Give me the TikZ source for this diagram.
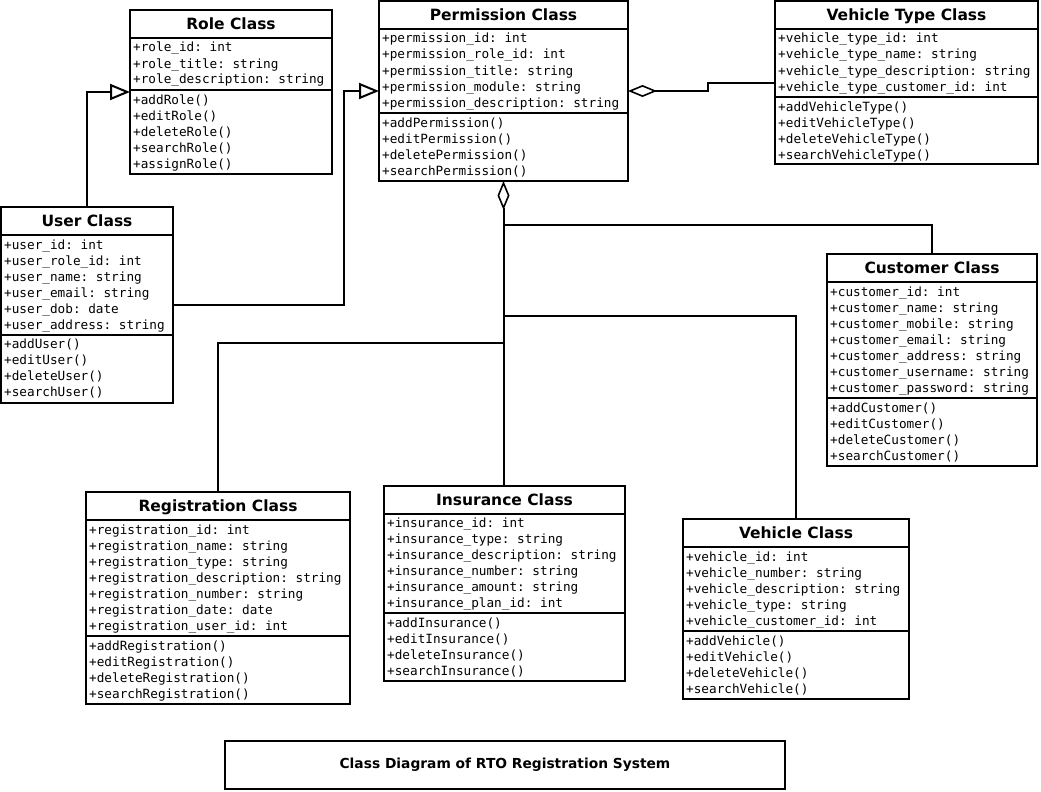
\documentclass[tikz,border=0pt]{standalone}
\usepackage{fontspec}
\setmainfont{DejaVu Sans}
\setsansfont{DejaVu Sans}
\setmonofont{DejaVu Sans Mono}
\usetikzlibrary{arrows.meta}

\tikzset{
  clsbox/.style={draw=black, line width=2pt, fill=white, inner sep=0pt, outer sep=0pt},
  divider/.style={line width=2pt},
  clstitle/.style={font=\fontsize{15.5}{18}\selectfont\bfseries, inner sep=0pt, anchor=base},
  member/.style={font=\fontsize{12.7}{16}\selectfont\ttfamily, anchor=base west, inner sep=0pt},
  conn/.style={line width=2pt, line join=miter},
  gen/.style={-{Triangle[open,length=20pt,width=16pt,line width=2pt]}},
  agg/.style={{Diamond[open,length=29pt,width=12pt,line width=1.6pt]}-},
  captionbox/.style={draw=black, line width=2pt, fill=white, minimum width=560pt, minimum height=48pt,
    font=\fontsize{13.8}{16}\selectfont\bfseries, inner sep=0pt},
}

% #1 name, #2 x1, #3 y1, #4 x2, #5 y2, #6 title divider, #7 attribute divider, #8 title
\newcommand\umlclass[8]{%
  \node[clsbox, minimum width={#4-#2}, minimum height={#5-#3}, anchor=north west] (#1) at (#2,#3) {};
  \draw[divider] (#2,#6) -- (#4,#6) (#2,#7) -- (#4,#7);
  \node[clstitle] at ({(#2+#4)/2},{(#3+#6)/2+5.6}) {#8};
}
% #1 x of box, #2 divider y above the block, #3 list of lines
\newcommand\members[3]{%
  \foreach \m [count=\i from 0] in {#3} {\node[member] at ({#1+3},{#2+14.5+16*\i}) {\m};}%
}

\begin{document}
\begin{tikzpicture}[x=1pt,y=-1pt]
\useasboundingbox (0,0) rectangle (1041,792);
\fill[white] (0,0) rectangle (1041,792);

% Role Class
\umlclass{role}{130}{10}{332}{174}{38}{90}{Role Class}
\members{130}{37.5}{+role\_id: int,+role\_title: string,+role\_description: string}
\members{130}{89.5}{+addRole(),+editRole(),+deleteRole(),+searchRole(),+assignRole()}

% Permission Class
\umlclass{permission}{379}{1}{628}{181}{29}{113}{Permission Class}
\members{379}{28.5}{+permission\_id: int,+permission\_role\_id: int,+permission\_title: string,+permission\_module: string,+permission\_description: string}
\members{379}{112.5}{+addPermission(),+editPermission(),+deletePermission(),+searchPermission()}

% Vehicle Type Class
\umlclass{vtype}{775}{1}{1038}{164}{29}{97}{Vehicle Type Class}
\members{775}{28.5}{+vehicle\_type\_id: int,+vehicle\_type\_name: string,+vehicle\_type\_description: string,+vehicle\_type\_customer\_id: int}
\members{775}{96.5}{+addVehicleType(),+editVehicleType(),+deleteVehicleType(),+searchVehicleType()}

% User Class
\umlclass{user}{1}{207}{173}{403}{235}{335}{User Class}
\members{1}{234.5}{+user\_id: int,+user\_role\_id: int,+user\_name: string,+user\_email: string,+user\_dob: date,+user\_address: string}
\members{1}{334}{+addUser(),+editUser(),+deleteUser(),+searchUser()}

% Customer Class
\umlclass{customer}{827}{254}{1037}{466}{282}{398}{Customer Class}
\members{827}{281.5}{+customer\_id: int,+customer\_name: string,+customer\_mobile: string,+customer\_email: string,+customer\_address: string,+customer\_username: string,+customer\_password: string}
\members{827}{397.5}{+addCustomer(),+editCustomer(),+deleteCustomer(),+searchCustomer()}

% Registration Class
\umlclass{registration}{86}{492}{350}{704}{520}{636}{Registration Class}
\members{86}{519.5}{+registration\_id: int,+registration\_name: string,+registration\_type: string,+registration\_description: string,+registration\_number: string,+registration\_date: date,+registration\_user\_id: int}
\members{86}{635.5}{+addRegistration(),+editRegistration(),+deleteRegistration(),+searchRegistration()}

% Insurance Class
\umlclass{insurance}{384}{486}{625}{681}{514}{613}{Insurance Class}
\members{384}{513}{+insurance\_id: int,+insurance\_type: string,+insurance\_description: string,+insurance\_number: string,+insurance\_amount: string,+insurance\_plan\_id: int}
\members{384}{612.5}{+addInsurance(),+editInsurance(),+deleteInsurance(),+searchInsurance()}

% Vehicle Class
\umlclass{vehicle}{683}{519}{909}{699}{547}{631}{Vehicle Class}
\members{683}{547}{+vehicle\_id: int,+vehicle\_number: string,+vehicle\_description: string,+vehicle\_type: string,+vehicle\_customer\_id: int}
\members{683}{631}{+addVehicle(),+editVehicle(),+deleteVehicle(),+searchVehicle()}

% Caption
\node[captionbox] (caption) at (505,765) {Class Diagram of RTO Registration System};

% Generalisations
\draw[conn, gen] (user.north) |- (role.west);
\draw[conn, gen] (user.east) -| ([xshift=-35pt]permission.west) -- (permission.west);

% Aggregations
\draw[conn, agg] (permission.east) -- ++(80,0) |- (vtype.west);
\draw[conn, agg] (permission.south) -- (permission.south |- insurance.north);
\draw[conn] ([yshift=-44pt]permission.south) -| (customer.north);
\draw[conn] ([yshift=-135pt]permission.south) -| (vehicle.north);
\draw[conn] ([yshift=-162pt]permission.south) -| (registration.north);
\end{tikzpicture}
\end{document}
